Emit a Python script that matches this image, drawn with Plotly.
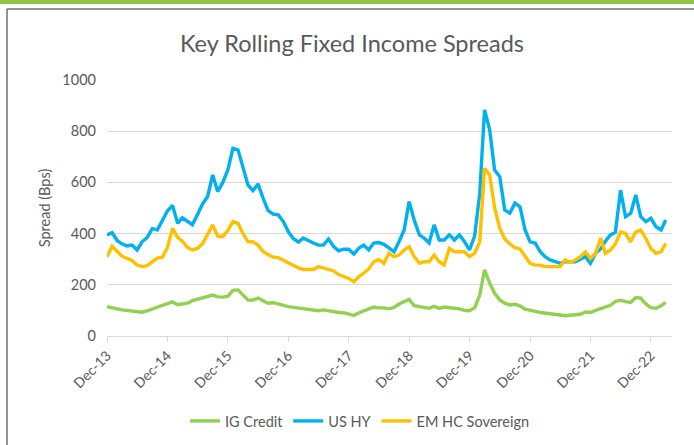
import pandas as pd
import plotly.graph_objects as go

# ── Data (monthly, Dec-13 .. Mar-23), values in bps ───────────────────────────
START_MONTH = "2013-12-01"

ig_credit = [
    115, 112, 106, 102, 99, 96, 93, 93, 98, 106, 114, 120,
    126, 133, 122, 124, 128, 138, 144, 150, 155, 160, 153, 152,
    155, 178, 180, 162, 140, 140, 148, 138, 128, 130, 124, 120,
    115, 112, 109, 107, 104, 102, 99, 102, 98, 94, 92, 91,
    87, 80, 91, 99, 106, 113, 110, 110, 106, 112, 125, 134,
    143, 118, 115, 112, 108, 116, 108, 113, 111, 110, 106, 100,
    99, 110, 160, 258, 206, 167, 141, 128, 121, 124, 118, 105,
    99, 96, 92, 90, 89, 87, 82, 79, 82, 82, 85, 94,
    92, 100, 106, 111, 120, 135, 140, 134, 131, 150, 148, 125,
    111, 108, 118, 131,
]

us_hy = [
    395, 404, 372, 360, 352, 355, 336, 368, 385, 420, 414, 450,
    488, 510, 440, 462, 450, 435, 475, 515, 545, 629, 564, 600,
    648, 733, 727, 661, 590, 568, 594, 539, 490, 476, 473, 447,
    407, 380, 367, 383, 371, 363, 355, 355, 379, 349, 333, 339,
    339, 320, 344, 355, 336, 363, 365, 358, 344, 329, 368, 414,
    525, 453, 395, 383, 363, 434, 375, 375, 395, 375, 395, 368,
    336, 390, 557, 883, 805, 648, 622, 492, 480, 519, 505, 414,
    368, 363, 329, 310, 297, 290, 284, 290, 290, 290, 300, 310,
    284, 323, 340, 370, 395, 405, 570, 466, 479, 551, 466, 447,
    460, 427, 414, 453,
]

em_hc_sovereign = [
    310, 350, 330, 312, 303, 295, 277, 271, 275, 288, 304, 308,
    345, 421, 385, 370, 346, 336, 342, 360, 395, 434, 390, 388,
    412, 447, 440, 401, 368, 368, 355, 330, 318, 308, 306, 295,
    288, 277, 266, 260, 259, 260, 271, 266, 260, 254, 240, 234,
    225, 212, 232, 245, 262, 290, 299, 284, 323, 310, 316, 336,
    349, 310, 284, 290, 290, 316, 290, 277, 342, 329, 329, 329,
    310, 323, 368, 655, 629, 500, 420, 380, 360, 345, 340, 310,
    284, 277, 277, 271, 271, 271, 271, 297, 287, 297, 310, 329,
    303, 323, 383, 323, 336, 360, 407, 401, 368, 407, 414, 381,
    342, 323, 329, 362,
]

tick_dates = ["2013-12-01", "2014-12-01", "2015-12-01", "2016-12-01", "2017-12-01",
              "2018-12-01", "2019-12-01", "2020-12-01", "2021-12-01", "2022-12-01"]
tick_labels = ["Dec-13", "Dec-14", "Dec-15", "Dec-16", "Dec-17",
               "Dec-18", "Dec-19", "Dec-20", "Dec-21", "Dec-22"]

months = pd.date_range(START_MONTH, periods=len(ig_credit), freq="MS")

# ── Style ─────────────────────────────────────────────────────────────────────
_GREEN = "#92D050"
_BLUE = "#00B0F0"
_ORANGE = "#FFC000"
_TEXT = "#595959"
_GRID = "#D9D9D9"
_FONT = "Lato"

fig = go.Figure()

for name, vals, color in [
    ("IG Credit", ig_credit, _GREEN),
    ("US HY", us_hy, _BLUE),
    ("EM HC Sovereign", em_hc_sovereign, _ORANGE),
]:
    fig.add_trace(go.Scatter(
        x=months, y=vals, mode="lines", name=name,
        line=dict(color=color, width=3.4),
    ))

# frame: green bar on top + grey box edge (paper coords computed from margins)
L, R, T, B = 107, 22, 80, 109
W, H = 694, 445
pw, ph = W - L - R, H - T - B


def px_x(p):
    return (p - L) / pw


def px_y(p):
    return (H - B - p) / ph


fig.add_shape(type="rect", xref="paper", yref="paper",
              x0=px_x(0), x1=px_x(W), y0=px_y(4), y1=px_y(0),
              fillcolor="#8DC63F", line_width=0, layer="above")
fig.add_shape(type="line", xref="paper", yref="paper",
              x0=px_x(7), x1=px_x(W), y0=px_y(9), y1=px_y(9),
              line=dict(color="#6B7178", width=1.5))
fig.add_shape(type="line", xref="paper", yref="paper",
              x0=px_x(7), x1=px_x(7), y0=px_y(9), y1=px_y(H + 5),
              line=dict(color="#6B7178", width=1.5))

fig.update_layout(
    width=W, height=H,
    margin=dict(l=L, r=R, t=T, b=B, autoexpand=False),
    paper_bgcolor="#FFFFFF",
    plot_bgcolor="#FFFFFF",
    font=dict(family=_FONT, color=_TEXT, size=13),
    title=dict(
        text="Key Rolling Fixed Income Spreads",
        font=dict(size=23.5, color=_TEXT, family=_FONT),
        x=px_x(352), xref="paper", xanchor="center",
        y=1 - 44 / H, yanchor="middle",
    ),
    xaxis=dict(
        type="date",
        automargin=False,
        range=["2013-12-01", "2023-04-08"],
        tickvals=tick_dates,
        ticktext=tick_labels,
        tickangle=-45,
        tickfont=dict(size=14, color=_TEXT),
        showgrid=False,
        showline=True,
        linecolor=_GRID,
        linewidth=1,
        ticks="outside",
        ticklen=5,
        tickcolor=_GRID,
        zeroline=False,
    ),
    yaxis=dict(
        automargin=False,
        range=[0, 1000],
        tickvals=[0, 200, 400, 600, 800, 1000],
        tickfont=dict(size=14.5, color=_TEXT),
        ticklabelstandoff=10,
        title=dict(text="Spread (Bps)", font=dict(size=14.5, color=_TEXT), standoff=8),
        showgrid=True,
        gridcolor=_GRID,
        gridwidth=1,
        zeroline=False,
        showline=False,
        ticks="",
    ),
    legend=dict(
        orientation="h",
        x=px_x(360), xanchor="center",
        y=px_y(421), yanchor="middle",
        font=dict(size=14.5, color=_TEXT),
        bgcolor="rgba(0,0,0,0)",
        itemwidth=30,
        tracegroupgap=0,
    ),
    showlegend=True,
)

# drop the page's default body margin so the figure sits at the window origin
fig.write_html(
    "out.html",
    config={"displayModeBar": False},
    post_script="document.body.style.margin = '0';",
)
